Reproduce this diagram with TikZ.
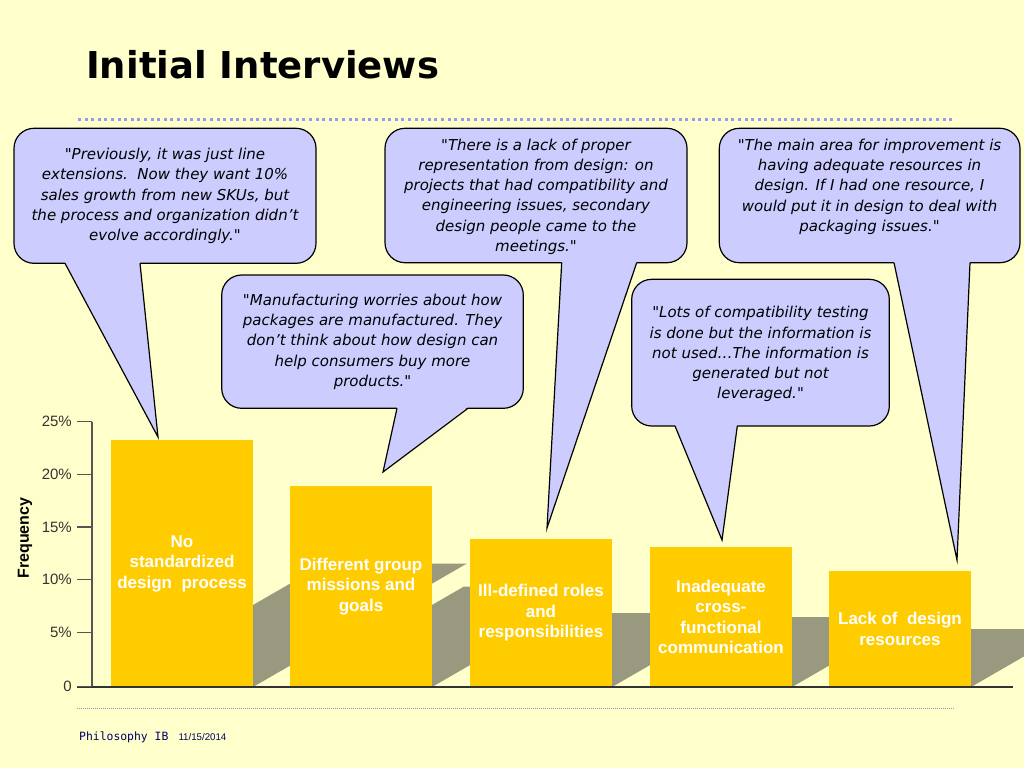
\documentclass[tikz,border=0pt]{standalone}
\usepackage{fontspec}
\setmainfont{DejaVu Sans}
\newfontfamily\quotef{DejaVu Sans}
\newfontfamily\arialf{Liberation Sans}
\newfontfamily\monof{DejaVu Sans Mono}
\definecolor{bg}{HTML}{FFFFCC}
\definecolor{barc}{HTML}{FFCC00}
\definecolor{shadowc}{RGB}{153,153,128}
\definecolor{bubblec}{HTML}{CCCCFF}
\definecolor{dotc}{HTML}{9999EE}
\definecolor{dotb}{HTML}{9999BB}
\definecolor{axisc}{HTML}{555555}
\definecolor{footc}{HTML}{000066}
\begin{document}
\begin{tikzpicture}[x=1pt,y=-1pt,
  bubble/.style={draw=black, fill=bubblec, line width=1.2pt, rounded corners=20pt, inner sep=0pt, outer sep=0pt, anchor=north west},
  quote/.style={font=\quotef\fontsize{15}{20.3}\selectfont\itshape, align=center, inner sep=0pt, text=black},
  bar/.style={fill=barc, inner sep=0pt, outer sep=0pt, minimum width=142pt, anchor=south west, align=center, text=white, font=\arialf\bfseries\fontsize{17}{20.5}\selectfont},
  shadowp/.style={fill=shadowc},
  ticklab/.style={anchor=east, font=\arialf\fontsize{15}{18}\selectfont, text=black!80, inner sep=0pt},
  tickline/.style={draw=axisc, line width=1.2pt},
  ptr/.style={draw=black, line width=1.2pt, line join=miter},
  ptrfill/.style={fill=bubblec}
]
\useasboundingbox (0,0) rectangle (1024,768);
\fill[bg] (0,0) rectangle (1024,768);

% title
\node[anchor=base west, inner sep=0pt, font=\bfseries\fontsize{37}{40}\selectfont] (title) at (86,78.3) {Initial Interviews};
\draw[dotc, line width=3pt, dash pattern=on 3pt off 3.6pt] (78,119.3) -- (955,119.3);

% shadows
\begin{scope}
\clip (0,0) rectangle (1024,768);
\fill[shadowp] (111,687) -- (253,687) -- (466.9,563.5) -- (324.9,563.5) -- cycle;
\fill[shadowp] (290,687) -- (432,687) -- (606,586.5) -- (464,586.5) -- cycle;
\fill[shadowp] (470,687) -- (612,687) -- (740.2,613) -- (598.2,613) -- cycle;
\fill[shadowp] (650,687) -- (792,687) -- (913.2,617) -- (771.2,617) -- cycle;
\fill[shadowp] (829,687) -- (971,687) -- (1071.5,629) -- (929.5,629) -- cycle;
\end{scope}

% bars
\node[bar, minimum height=247pt] (bar1) at (111,687) {No\\standardized\\design~~process};
\node[bar, minimum height=201pt] (bar2) at (290,687) {Different group\\missions and\\goals};
\node[bar, minimum height=148pt] (bar3) at (470,687) {Ill-defined roles\\and\\responsibilities};
\node[bar, minimum height=140pt] (bar4) at (650,687) {Inadequate\\cross-\\functional\\communication};
\node[bar, minimum height=116pt] (bar5) at (829,687) {Lack of~~design\\resources};

% axis
\coordinate (axtop) at (92,421.7);
\coordinate (axbot) at (92,687);
\coordinate (baseL) at (77,687);
\coordinate (baseR) at (1013,687);
\draw[axisc, line width=1.3pt] (axtop) -- (axbot);
\draw[black!80, line width=1.5pt] (baseL) -- (baseR);
\foreach \v/\lab in {421.7/25\%, 474.3/20\%, 527/15\%, 579.7/10\%, 632.3/5\%, 686.7/0}{
  \draw[tickline] (77,\v) -- (92,\v);
  \node[ticklab] at (72,\v) {\lab};
}
\node[rotate=90, inner sep=0pt, font=\arialf\bfseries\fontsize{16}{18}\selectfont] (ylab) at (25,538) {Frequency};

% bubbles
% 1
\node[bubble, minimum width=302pt, minimum height=135pt] (b1) at (14,128.3) {};
\coordinate (t1) at (158,437);
\fill[ptrfill] (65,262) -- (t1) -- (140,262) -- cycle;
\draw[ptr] (65,263.3) -- (t1) -- (140,263.3);
% 3
\node[bubble, minimum width=302pt, minimum height=134.4pt] (b3) at (385,128.3) {};
\coordinate (t3) at (547,528);
\fill[ptrfill] (561.7,262) -- (t3) -- (636.7,262) -- cycle;
\draw[ptr] (561.7,262.7) -- (t3) -- (636.7,262.7);
% 5
\node[bubble, minimum width=300.7pt, minimum height=134.4pt] (b5) at (719.3,128.3) {};
\coordinate (t5) at (957,560);
\fill[ptrfill] (894,262) -- (t5) -- (970,262) -- cycle;
\draw[ptr] (894,262.7) -- (t5) -- (970,262.7);
% 2
\node[bubble, minimum width=301.6pt, minimum height=133.3pt] (b2) at (221.7,275) {};
\coordinate (t2) at (383,472);
\fill[ptrfill] (397,407) -- (t2) -- (468,407) -- cycle;
\draw[ptr] (397,408.3) -- (t2) -- (468,408.3);
% 4
\node[bubble, minimum width=257.6pt, minimum height=146.7pt] (b4) at (631.7,279.3) {};
\coordinate (t4) at (722,540);
\fill[ptrfill] (675,424.7) -- (t4) -- (737.3,424.7) -- cycle;
\draw[ptr] (675,426) -- (t4) -- (737.3,426);

% quotes
\node[quote] (q1) at (165,196) {"Previously, it was just line\\extensions.~~Now they want 10\%\\sales growth from new SKUs, but\\the process and organization didn’t\\evolve accordingly."};
\node[quote] (q2) at (372.5,341.7) {"Manufacturing worries about how\\packages are manufactured. They\\don’t think about how design can\\help consumers buy more\\products."};
\node[quote] (q3) at (536,196.7) {"There is a lack of proper\\representation from design: on\\projects that had compatibility and\\engineering issues, secondary\\design people came to the\\meetings."};
\node[quote] (q4) at (760.5,354.2) {"Lots of compatibility testing\\is done but the information is\\not used…The information is\\generated but not\\leveraged."};
\node[quote] (q5) at (869.5,186.7) {"The main area for improvement is\\having adequate resources in\\design. If I had one resource, I\\would put it in design to deal with\\packaging issues."};

% footer
\draw[dotb, line width=0.8pt, dash pattern=on 1pt off 1pt] (77,708.3) -- (955,708.3);
\node[anchor=base west, inner sep=0pt, text=footc, font=\monof\fontsize{11.4}{13}\selectfont] (foot1) at (79,740.7) {Philosophy IB};
\node[anchor=base west, inner sep=0pt, text=footc, font=\arialf\fontsize{9.7}{11}\selectfont] (foot2) at (178.3,740.7) {11/15/2014};
\end{tikzpicture}
\end{document}
